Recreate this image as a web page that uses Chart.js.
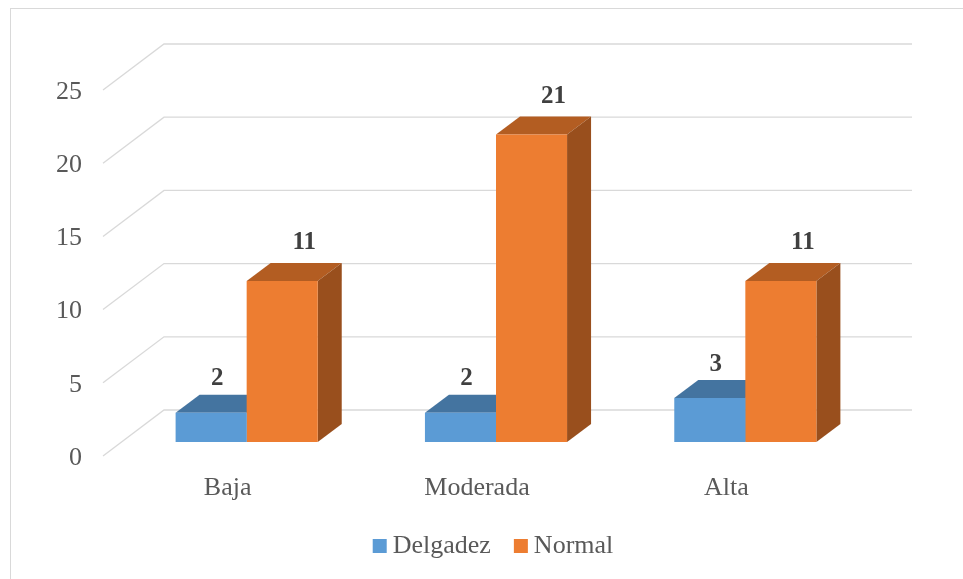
<!DOCTYPE html>
<html>
<head>
<meta charset="utf-8">
<script src="https://cdn.jsdelivr.net/npm/chart.js@4.4.1/dist/chart.umd.min.js"></script>
<style>
  html, body { margin: 0; padding: 0; background: #fff; }
  #wrap { width: 963px; height: 579px; }
</style>
</head>
<body>
<div id="wrap"><canvas id="chart" width="963" height="579"></canvas></div>
<script>
const categories = ['Baja', 'Moderada', 'Alta'];
const delgadez = [2, 2, 3];
const normal = [11, 21, 11];
const yTicks = [0, 5, 10, 15, 20, 25];

const FONT = "'Liberation Serif', 'Times New Roman', serif";

// depth of the 3D box: back wall and front edge relative to the bar plane
const BACK = { dx: 42, dy: -32 };
const FRONT = { dx: -19, dy: 14 };
const BAR_DEPTH = { dx: 24, dy: -18 };

const faces = {
    'Delgadez': { top: '#4474A0', side: '#3A6690' },
    'Normal': { top: '#B35D22', side: '#994F1D' }
};

const poly = (ctx, pts, color) => {
    ctx.beginPath();
    ctx.moveTo(pts[0][0], pts[0][1]);
    for (let i = 1; i < pts.length; i++) ctx.lineTo(pts[i][0], pts[i][1]);
    ctx.closePath();
    ctx.fillStyle = color;
    ctx.fill();
}

const box3d = {
    id: 'box3d',
    beforeDraw(chart) {
        const ctx = chart.ctx;
        ctx.save();
        ctx.fillStyle = '#fff';
        ctx.fillRect(0, 0, chart.width, chart.height);
        ctx.strokeStyle = '#d9d9d9';
        ctx.lineWidth = 1;
        ctx.strokeRect(10.5, 8.5, chart.width + 20, chart.height + 20);
        ctx.restore();
    },
    beforeDatasetsDraw(chart) {
        const ctx = chart.ctx;
        const area = chart.chartArea;
        const y = chart.scales.y;
        ctx.save();
        ctx.strokeStyle = '#d9d9d9';
        ctx.lineWidth = 1.3;
        yTicks.forEach(v => {
            const py = y.getPixelForValue(v);
            ctx.beginPath();
            ctx.moveTo(area.left + FRONT.dx, py + FRONT.dy);
            ctx.lineTo(area.left + BACK.dx, py + BACK.dy);
            ctx.lineTo(area.right + BACK.dx, py + BACK.dy);
            ctx.stroke();
        });

        // top and side faces of each bar
        chart.data.datasets.forEach((ds, i) => {
            const meta = chart.getDatasetMeta(i);
            const f = faces[ds.label];
            meta.data.forEach(bar => {
                const p = bar.getProps(['x', 'y', 'base', 'width'], true);
                const x0 = p.x - p.width / 2, x1 = p.x + p.width / 2;
                const dx = BAR_DEPTH.dx, dy = BAR_DEPTH.dy;
                poly(ctx, [[x0, p.y], [x0 + dx, p.y + dy], [x1 + dx, p.y + dy], [x1, p.y]], f.top);
                poly(ctx, [[x1, p.y], [x1 + dx, p.y + dy], [x1 + dx, p.base + dy], [x1, p.base]], f.side);
            });
        });
        ctx.restore();
    },
    afterDatasetsDraw(chart) {
        const ctx = chart.ctx;
        ctx.save();
        ctx.font = `bold 25px ${FONT}`;
        ctx.fillStyle = '#404040';
        ctx.textAlign = 'center';
        ctx.textBaseline = 'middle';
        const shift = [6, 22];
        const lift = [34, 38];
        chart.data.datasets.forEach((ds, i) => {
            const meta = chart.getDatasetMeta(i);
            meta.data.forEach((bar, j) => {
                ctx.fillText(String(ds.data[j]), bar.x + shift[i], bar.y - lift[i]);
            });
        });

        // legend
        ctx.font = `26px ${FONT}`;
        ctx.textAlign = 'left';
        const items = chart.data.datasets.map(ds => ({
            label: ds.label, color: ds.backgroundColor, w: 14 + 6 + ctx.measureText(ds.label).width
        }));
        const gap = 23;
        const total = items.reduce((s, it) => s + it.w, 0) + gap * (items.length - 1);
        let lx = (chart.chartArea.left + chart.chartArea.right) / 2 - total / 2 - 3;
        const ly = 545;
        items.forEach(it => {
            ctx.fillStyle = it.color;
            ctx.fillRect(lx, ly - 6, 14, 14);
            ctx.fillStyle = '#595959';
            ctx.fillText(it.label, lx + 20, ly + 1);
            lx += it.w + gap;
        });
        ctx.restore();
    }
};

new Chart(document.getElementById('chart'), {
    type: 'bar',
    data: {
        labels: categories,
        datasets: [
            { label: 'Delgadez', data: delgadez, backgroundColor: '#5B9BD5' },
            { label: 'Normal', data: normal, backgroundColor: '#ED7D31' }
        ]
    },
    options: {
        responsive: false,
        animation: false,
        layout: { padding: { left: 0, right: 93, top: 76, bottom: 0 } },
        datasets: { bar: { categoryPercentage: 0.57, barPercentage: 1 } },
        plugins: {
            legend: { display: false },
            tooltip: { enabled: false }
        },
        scales: {
            x: {
                grid: { display: false, drawTicks: false },
                border: { display: false },
                ticks: { color: '#595959', font: { family: FONT, size: 26 }, padding: 31, labelOffset: -19 },
                afterFit(scale) { scale.height = 137; }
            },
            y: {
                min: 0,
                max: 25,
                grid: { display: false, drawTicks: false },
                border: { display: false },
                ticks: { stepSize: 5, color: '#595959', font: { family: FONT, size: 26 }, padding: 40, labelOffset: 16 },
                afterFit(scale) { scale.width = 122; }
            }
        }
    },
    plugins: [box3d]
});
</script>
</body>
</html>
